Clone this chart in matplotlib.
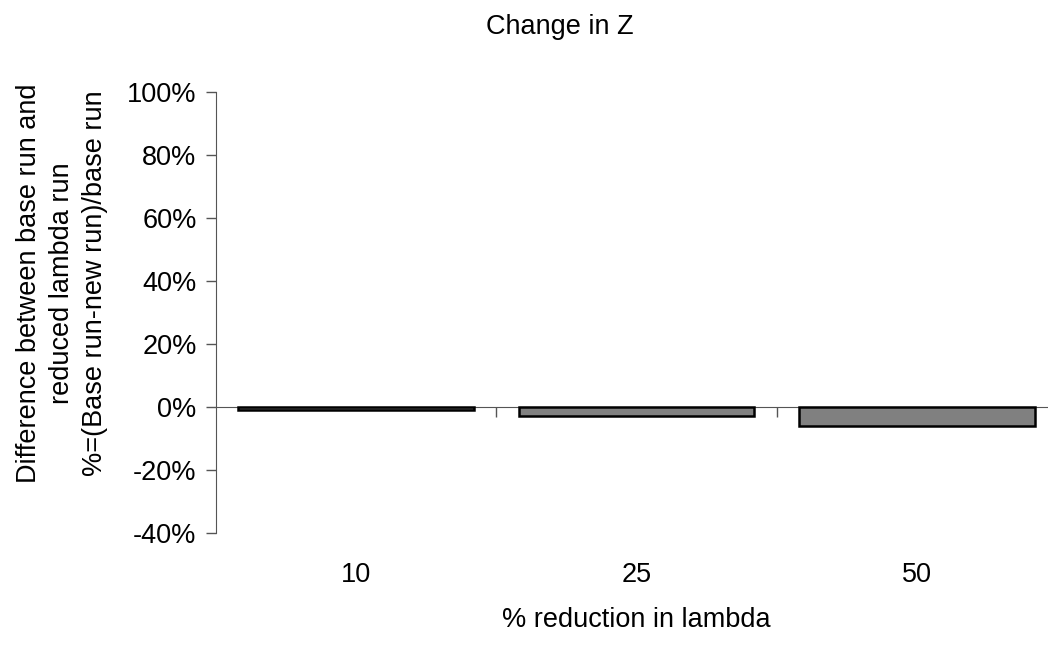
import matplotlib
matplotlib.use("Agg")
import matplotlib.pyplot as plt
from matplotlib.ticker import FuncFormatter, FixedLocator
import matplotlib.transforms as mtransforms

categories = ["10", "25", "50"]
values = [-1.0, -2.8, -6.0]  # percent
yticks = [-40, -20, 0, 20, 40, 60, 80, 100]

plt.rcParams['font.family'] = ['Liberation Sans', 'DejaVu Sans']
FS = 19.5

fig = plt.figure(figsize=(10.48, 6.46), dpi=100)
ax = fig.add_axes([216/1048, 1-533/646, (1057-216)/1048, (533-92)/646])

x = list(range(len(categories)))
ax.bar(x, values, width=0.84, color='#808080', edgecolor='black', linewidth=1.8, zorder=3)

ax.set_xlim(-0.5, len(categories) - 0.5)
ax.set_ylim(-40, 100)
ax.yaxis.set_major_locator(FixedLocator(yticks))
ax.yaxis.set_major_formatter(FuncFormatter(lambda v, p: f"{v:.0f}%"))
ax.tick_params(axis='y', direction='out', length=7, width=1, color='#555555',
               labelsize=FS, pad=7)

for s in ['top', 'right']:
    ax.spines[s].set_visible(False)
ax.spines['left'].set_color('#555555')
ax.spines['bottom'].set_position(('data', 0))
ax.spines['bottom'].set_color('#555555')
ax.set_xticks([0.5, 1.5])
ax.set_xticklabels([])
ax.tick_params(axis='x', direction='out', length=7, width=1, color='#555555')

trans = mtransforms.blended_transform_factory(ax.transData, fig.transFigure)
for xi, c in zip(x, categories):
    ax.text(xi, 1-575/646, c, transform=trans, ha='center', va='center', fontsize=FS)

fig.text(560/1048, 1-27/646, "Change in Z", ha='center', va='center', fontsize=FS)
fig.text(636/1048, 1-620/646, "% reduction in lambda", ha='center', va='center', fontsize=FS)
fig.text(62/1048, 1-283/646,
         "Difference between base run and\nreduced lambda run\n%=(Base run-new run)/base run",
         ha='center', va='center', rotation=90, fontsize=FS, linespacing=1.35,
         multialignment='center')

fig.savefig("out.png", dpi=100)
